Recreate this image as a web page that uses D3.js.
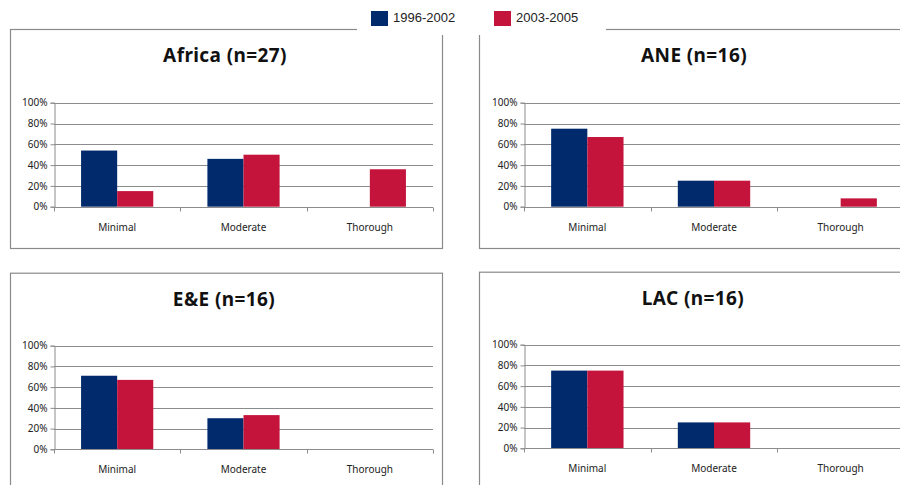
<!DOCTYPE html>
<html>
<head>
<meta charset="utf-8">
<script src="https://cdn.jsdelivr.net/npm/d3@7"></script>
<style>
  body { margin: 0; background: #fff; }
  svg { display: block; }
</style>
</head>
<body>
<div id="chart"></div>
<script>
const categories = ['Minimal', 'Moderate', 'Thorough']
const seriesNames = ['1996-2002', '2003-2005']
const regions = ['Africa', 'ANE', 'E&E', 'LAC']
const counts = [27, 16, 16, 16]
// percent per category, one row per region
const early = [[54, 46, 0], [75, 25, 0], [71, 30, 0], [75, 25, 0]]
const late = [[15, 50, 36], [67, 25, 8], [67, 33, 0], [75, 25, 0]]
const yTicks = [0, 20, 40, 60, 80, 100]

const colors = ['#002a6c', '#c5143b']
const gridColor = '#8c8c8c'

const width = 900
const height = 485

// panel frames and plot areas
const panels = [
  { box: [10, 29, 432, 219], plot: [54, 433, 102.7, 206.7], titleX: 225 },
  { box: [479, 29, 430, 219], plot: [524, 904, 102.7, 206.7], titleX: 694 },
  { box: [10, 272.7, 432, 230], plot: [54, 433, 345.7, 449.3], titleX: 224 },
  { box: [479, 271.7, 430, 230], plot: [524, 904, 344.7, 448.3], titleX: 693 },
]

const svg = d3
  .select('#chart')
  .append('svg')
  .attr('width', width)
  .attr('height', height)

panels.forEach((p, i) => {
  const [bx, by, bw, bh] = p.box
  const [x0, x1, yTop, yBottom] = p.plot
  const g = svg.append('g').attr('class', `panel panel-${i}`)

  g.append('rect')
    .attr('x', bx + 0.5)
    .attr('y', by + 0.5)
    .attr('width', bw)
    .attr('height', bh)
    .attr('fill', '#fff')
    .attr('stroke', '#8a8a8a')
    .attr('stroke-width', 1.2)

  g.append('text')
    .attr('x', p.titleX)
    .attr('y', by + 33)
    .attr('text-anchor', 'middle')
    .attr('font-family', '"Noto Sans", sans-serif')
    .attr('font-weight', 'bold')
    .attr('font-size', 19)
    .attr('letter-spacing', 0.4)
    .attr('fill', '#111')
    .text(`${regions[i]} (n=${counts[i]})`)

  const x = d3.scaleBand().domain(categories).range([x0, x1])
  const inner = d3
    .scaleBand()
    .domain(seriesNames)
    .range([0, x.bandwidth()])
    .paddingOuter(0.75)
  const y = d3.scaleLinear().domain([0, 100]).range([yBottom, yTop])

  // gridlines
  g.append('g')
    .selectAll('line')
    .data(yTicks.filter(t => t > 0))
    .join('line')
    .attr('x1', x0)
    .attr('x2', x1)
    .attr('y1', d => Math.round(y(d)) + 0.5)
    .attr('y2', d => Math.round(y(d)) + 0.5)
    .attr('stroke', gridColor)
    .attr('stroke-width', 1)

  // bars
  const rows = categories.map((c, k) => ({
    cat: c,
    vals: [early[i][k], late[i][k]],
  }))
  g.append('g')
    .selectAll('g')
    .data(rows)
    .join('g')
    .attr('transform', d => `translate(${x(d.cat)},0)`)
    .selectAll('rect')
    .data(d => d.vals.map((v, s) => ({ v, s })))
    .join('rect')
    .attr('x', d => inner(seriesNames[d.s]))
    .attr('width', inner.bandwidth())
    .attr('y', d => y(d.v))
    .attr('height', d => y(0) - y(d.v))
    .attr('fill', d => colors[d.s])

  // y axis
  g.append('g')
    .attr('transform', `translate(${x0 + 0.5},0)`)
    .call(
      d3
        .axisLeft(y)
        .tickValues(yTicks)
        .tickSize(4)
        .tickPadding(3)
        .tickFormat(d => `${d}%`),
    )
    .call(a => {
      a.select('.domain').attr('stroke', gridColor)
      a.selectAll('.tick line').attr('stroke', gridColor)
      a.selectAll('.tick text')
        .attr('font-family', '"Noto Sans", sans-serif')
        .attr('font-size', 10)
        .attr('fill', '#222')
    })

  // x axis
  const xa = g.append('g').attr('transform', `translate(0,${Math.round(yBottom) + 0.5})`)
  xa.append('line')
    .attr('x1', x0)
    .attr('x2', x1)
    .attr('stroke', gridColor)
  xa.selectAll('line.tick')
    .data(categories.map(c => x(c)).concat([x1]))
    .join('line')
    .attr('class', 'tick')
    .attr('x1', d => Math.round(d) + 0.5)
    .attr('x2', d => Math.round(d) + 0.5)
    .attr('y1', 0)
    .attr('y2', 4)
    .attr('stroke', gridColor)
  xa.selectAll('text')
    .data(categories)
    .join('text')
    .attr('x', d => x(d) + x.bandwidth() / 2)
    .attr('y', 23)
    .attr('text-anchor', 'middle')
    .attr('font-family', '"Noto Sans", sans-serif')
    .attr('font-size', 10)
    .attr('fill', '#222')
    .text(d => d)
})

// legend on white box over the top frames
const legend = svg.append('g').attr('class', 'legend')
legend
  .append('rect')
  .attr('x', 357)
  .attr('y', 0)
  .attr('width', 249)
  .attr('height', 35)
  .attr('fill', '#fff')

const legendX = [371, 494]
seriesNames.forEach((name, s) => {
  legend
    .append('rect')
    .attr('x', legendX[s])
    .attr('y', 11)
    .attr('width', 17)
    .attr('height', 15)
    .attr('fill', colors[s])
  legend
    .append('text')
    .attr('x', legendX[s] + 22)
    .attr('y', 22)
    .attr('font-family', '"Liberation Sans", Arial, sans-serif')
    .attr('font-size', 13)
    .attr('fill', '#222')
    .text(name)
})
</script>
</body>
</html>
